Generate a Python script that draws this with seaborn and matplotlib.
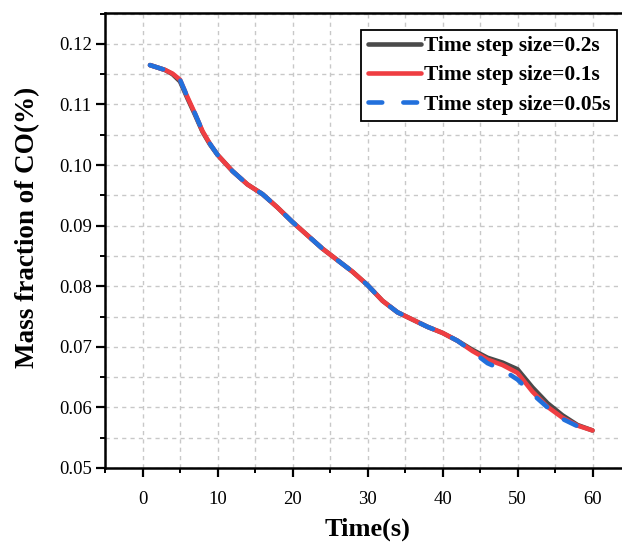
import numpy as np
import pandas as pd
import matplotlib
matplotlib.use("Agg")
import matplotlib.pyplot as plt
from matplotlib.ticker import MultipleLocator
import seaborn as sns

time_s = [1, 2, 3, 4, 5, 6, 7, 8, 9, 10, 12, 14, 16, 18, 20, 22, 24, 26, 28, 30,
          32, 34, 36, 38, 40, 42, 44, 46, 48, 50, 52, 54, 56, 58, 60]

co_dt_02 = [0.1165, 0.1161, 0.1157, 0.1150, 0.1138, 0.1110, 0.1083, 0.1055, 0.1034, 0.1017,
            0.0990, 0.0968, 0.0952, 0.0930, 0.0906, 0.0884, 0.0862, 0.0843, 0.0824, 0.0802,
            0.0776, 0.0757, 0.0745, 0.0733, 0.0723, 0.0710, 0.0695, 0.0682, 0.0674, 0.0663,
            0.0633, 0.0607, 0.0587, 0.0571, 0.0562]

co_dt_01 = [0.1165, 0.1161, 0.1157, 0.1151, 0.1141, 0.1112, 0.1085, 0.1056, 0.1035, 0.1017,
            0.0990, 0.0968, 0.0952, 0.0930, 0.0906, 0.0884, 0.0862, 0.0843, 0.0824, 0.0802,
            0.0776, 0.0757, 0.0745, 0.0733, 0.0723, 0.0710, 0.0693, 0.0679, 0.0670, 0.0657,
            0.0626, 0.0601, 0.0583, 0.0570, 0.0562]

co_dt_005 = [0.1165, 0.1161, 0.1157, 0.1151, 0.1141, 0.1112, 0.1085, 0.1056, 0.1035, 0.1017,
             0.0990, 0.0968, 0.0952, 0.0930, 0.0906, 0.0884, 0.0862, 0.0843, 0.0824, 0.0802,
             0.0776, 0.0757, 0.0745, 0.0733, 0.0723, 0.0710, 0.0692, 0.0673, 0.0662, 0.0646,
             0.0622, 0.0600, 0.0581, 0.0569, 0.0562]

labels = ["Time step size=0.2s", "Time step size=0.1s", "Time step size=0.05s"]
colors = ["#4a4a4a", "#ef3e42", "#2270dc"]

sns.set_theme(style="ticks")
plt.rcParams["font.family"] = ["Liberation Serif", "DejaVu Serif"]
plt.rcParams["text.color"] = "black"
plt.rcParams["axes.labelcolor"] = "black"
plt.rcParams["xtick.color"] = "black"
plt.rcParams["ytick.color"] = "black"

fig = plt.figure(figsize=(6.22, 5.46), dpi=100)
ax = fig.add_axes([105 / 622, 1 - 468 / 546, 525 / 622, 455 / 546])

series = [co_dt_02, co_dt_01, co_dt_005]
for vals, lab, col, i in zip(series, labels, colors, range(3)):
    df = pd.DataFrame({"t": time_s, "v": vals})
    sns.lineplot(data=df, x="t", y="v", ax=ax, color=col, lw=3.3, label=lab,
                 zorder=3 + i)
    if i == 2:
        ax.lines[-1].set_dashes([3.0, 4.6])
        ax.lines[-1].set_dash_capstyle("round")
for ln in ax.lines:
    ln.set_solid_capstyle("round")

ax.set_xlim(-5, 65)
ax.set_ylim(0.05, 0.1251)
ax.xaxis.set_major_locator(MultipleLocator(10))
ax.xaxis.set_minor_locator(MultipleLocator(5))
ax.yaxis.set_major_locator(MultipleLocator(0.01))
ax.yaxis.set_minor_locator(MultipleLocator(0.005))
ax.yaxis.set_major_formatter(matplotlib.ticker.FormatStrFormatter("%.2f"))

ax.grid(True, which="both", linestyle=(0, (3, 3)), color="#c8c8c8", lw=1.0, zorder=0)
ax.set_axisbelow(True)

for s in ax.spines.values():
    s.set_color("black")
    s.set_linewidth(1.8)

ax.tick_params(axis="both", which="major", direction="out", length=6.5, width=1.6,
               labelsize=13.5, colors="black", pad=3)
ax.tick_params(axis="both", which="minor", direction="out", length=3.5, width=1.4,
               colors="black")
ax.tick_params(axis="x", which="major", pad=10)

ax.set_xlabel("Time(s)", fontsize=19, fontweight="bold", labelpad=7, color="black")
ax.set_ylabel("Mass fraction of CO(%)", fontsize=19.5, fontweight="bold", color="black")
ax.yaxis.set_label_coords(-0.124, 0.529)

leg = ax.legend(loc="upper right", bbox_to_anchor=(0.975, 0.963), borderaxespad=0,
                prop={"weight": "bold", "size": 15.5}, frameon=True, fancybox=False,
                edgecolor="black", handlelength=2.45, handletextpad=0.15,
                labelspacing=0.42, borderpad=0.3)
leg.get_frame().set_linewidth(1.3)
leg.get_frame().set_alpha(1)
for t in leg.get_texts():
    t.set_color("black")

fig.savefig("out.png", dpi=100)
